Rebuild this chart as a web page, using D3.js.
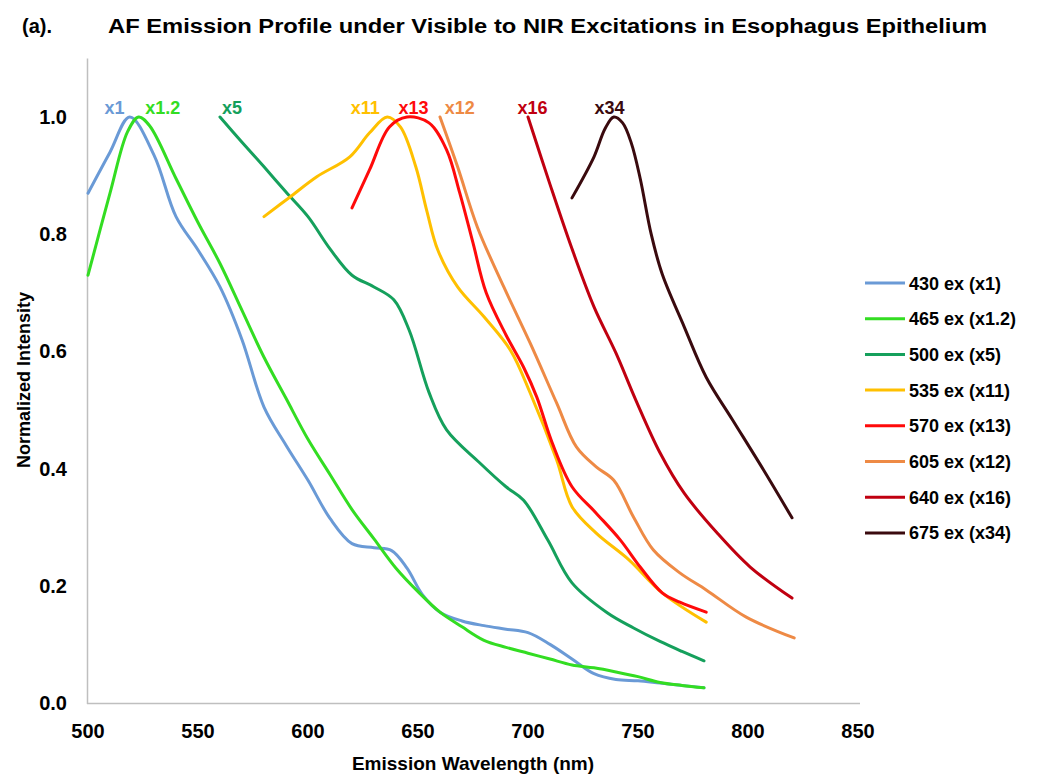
<!DOCTYPE html>
<html><head><meta charset="utf-8">
<script src="https://cdn.jsdelivr.net/npm/d3@7"></script>
<style>body{margin:0;background:#fff;} svg{display:block;font-family:"Liberation Sans",Arial,sans-serif;}</style>
</head><body>
<svg id="chart" width="1041" height="777"></svg>
<script>
const seriesNames = ["430 ex (x1)","465 ex (x1.2)","500 ex (x5)","535 ex (x11)","570 ex (x13)","605 ex (x12)","640 ex (x16)","675 ex (x34)"];
const peakLabels = ["x1","x1.2","x5","x11","x13","x12","x16","x34"];
const colors = ["#6a9ad6","#33dd22","#15a05c","#ffc000","#ff0a0a","#ee8a45","#c00010","#3a0a0e"];
const xTicks = [500,550,600,650,700,750,800,850];
const yTicks = [0,0.2,0.4,0.6,0.8,1.0];

const s430 = [[500,0.87],[510,0.94],[519,1.0],[530,0.935],[540,0.83],[550,0.773],[560,0.71],[570,0.62],[580,0.505],[590,0.44],[600,0.38],[610,0.315],[620,0.272],[630,0.265],[638,0.26],[645,0.23],[652,0.185],[660,0.155],[670,0.14],[680,0.132],[690,0.126],[700,0.12],[710,0.1],[720,0.075],[730,0.05],[740,0.04],[750,0.038],[760,0.034],[770,0.03],[780,0.026]];
const s465 = [[500,0.73],[510,0.87],[518,0.975],[523,1.0],[528,0.985],[540,0.895],[550,0.82],[560,0.75],[570,0.67],[580,0.59],[590,0.52],[600,0.45],[610,0.39],[620,0.33],[630,0.28],[640,0.23],[650,0.19],[660,0.155],[670,0.13],[680,0.107],[690,0.095],[700,0.085],[710,0.075],[720,0.065],[730,0.06],[740,0.053],[750,0.045],[760,0.035],[770,0.03],[780,0.026]];
const s500 = [[560,1.0],[570,0.957],[580,0.915],[590,0.872],[600,0.83],[610,0.775],[620,0.73],[630,0.71],[639,0.688],[646,0.636],[655,0.53],[663,0.466],[678,0.41],[690,0.369],[698,0.346],[709,0.278],[720,0.205],[736,0.154],[748,0.128],[760,0.105],[770,0.088],[780,0.072]];
const s535 = [[580,0.83],[592,0.864],[604,0.898],[619,0.932],[628,0.973],[636,1.0],[642,0.983],[649,0.915],[654,0.84],[659,0.773],[668,0.71],[680,0.659],[692,0.602],[701,0.529],[713,0.415],[720,0.335],[731,0.29],[746,0.244],[761,0.188],[781,0.138]];
const s570 = [[620,0.845],[628,0.91],[637,0.983],[645,1.0],[655,0.99],[663,0.944],[669,0.87],[675,0.785],[681,0.7],[690,0.628],[698,0.573],[704,0.522],[711,0.444],[720,0.369],[731,0.324],[742,0.278],[751,0.232],[761,0.188],[769,0.172],[781,0.155]];
const s605 = [[660,1.0],[668,0.915],[677,0.812],[689,0.71],[701,0.614],[713,0.512],[722,0.437],[731,0.403],[739,0.38],[748,0.317],[757,0.261],[769,0.222],[781,0.193],[799,0.147],[821,0.111]];
const s640 = [[700,1.0],[710,0.885],[720,0.775],[730,0.676],[740,0.597],[749,0.517],[760,0.427],[771,0.358],[786,0.29],[801,0.232],[820,0.179]];
const s675 = [[720,0.862],[730,0.932],[735,0.98],[739,1.0],[743,0.99],[747,0.955],[751,0.895],[756,0.8],[761,0.732],[771,0.642],[781,0.556],[793,0.483],[807,0.398],[820,0.316]];
const allSeries = [s430,s465,s500,s535,s570,s605,s640,s675];
const labelAnchors = [512,534,565.5,626,648,669,702,737];

const svg = d3.select("#chart");
const x = d3.scaleLinear().domain([500,850]).range([88,858]);
const y = d3.scaleLinear().domain([0,1.1]).range([703,58.4]);

// title
svg.append("text").attr("x",22).attr("y",33).attr("font-size",20).attr("font-weight","bold").attr("fill","#000").text("(a).");
svg.append("text").attr("x",108).attr("y",33).attr("font-size",20).attr("font-weight","bold").attr("fill","#000")
  .attr("textLength",879).attr("lengthAdjust","spacingAndGlyphs")
  .text("AF Emission Profile under Visible to NIR Excitations in Esophagus Epithelium");

// axes lines
svg.append("line").attr("x1",87.5).attr("x2",87.5).attr("y1",y(1.1)).attr("y2",704).attr("stroke","#bfbfbf").attr("stroke-width",1.5);
svg.append("line").attr("x1",87).attr("x2",860).attr("y1",703.5).attr("y2",703.5).attr("stroke","#bfbfbf").attr("stroke-width",1.5);

// tick labels
svg.selectAll(".xt").data(xTicks).enter().append("text")
  .attr("x",d=>x(d)).attr("y",738).attr("text-anchor","middle").attr("font-size",20).attr("font-weight","bold").text(d=>d);
svg.selectAll(".yt").data(yTicks).enter().append("text")
  .attr("x",67).attr("y",d=>y(d)+7).attr("text-anchor","end").attr("font-size",20).attr("font-weight","bold").text(d=>d3.format(".1f")(d));

// axis titles
svg.append("text").attr("x",473).attr("y",770).attr("text-anchor","middle").attr("font-size",19).attr("font-weight","bold").text("Emission Wavelength (nm)");
svg.append("text").attr("transform","translate(30,380) rotate(-90)").attr("text-anchor","middle").attr("font-size",18).attr("font-weight","bold").text("Normalized Intensity");

// lines
const line = d3.line().x(d=>x(d[0])).y(d=>y(d[1])).curve(d3.curveCatmullRom.alpha(0.5));
allSeries.forEach((s,i)=>{
  svg.append("path").datum(s).attr("d",line).attr("fill","none").attr("stroke",colors[i]).attr("stroke-width",3).attr("stroke-linecap","round").attr("stroke-linejoin","round");
});

// peak labels
svg.selectAll(".pl").data(peakLabels).enter().append("text")
  .attr("x",(d,i)=>x(labelAnchors[i])).attr("y",114).attr("text-anchor","middle")
  .attr("font-size",18).attr("font-weight","bold").attr("fill",(d,i)=>colors[i]).text(d=>d);

// legend
const lg = svg.append("g");
seriesNames.forEach((n,i)=>{
  const yy = 283 + i*35.7;
  lg.append("line").attr("x1",865).attr("x2",905).attr("y1",yy).attr("y2",yy).attr("stroke",colors[i]).attr("stroke-width",3);
  lg.append("text").attr("x",909).attr("y",yy+6.5).attr("font-size",18).attr("font-weight","bold").text(n);
});
</script>
</body></html>
